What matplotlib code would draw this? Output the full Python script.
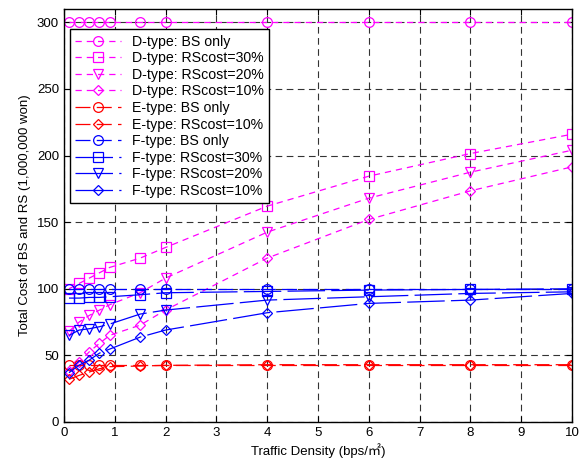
import matplotlib
matplotlib.use("Agg")
import matplotlib.pyplot as plt

plt.rcParams['font.family'] = ['Liberation Sans', 'DejaVu Sans']

x = [0.1, 0.3, 0.5, 0.7, 0.9, 1.5, 2, 4, 6, 8, 10]

d_bs = [300, 300, 300, 300, 300, 300, 300, 300, 300, 300, 300]
d_rs30 = [100, 104, 108, 112, 116, 123, 131, 162, 184.5, 201.5, 216]
d_rs20 = [68, 75, 80, 84, 88, 97, 108, 142.5, 168, 187.5, 204]
d_rs10 = [38, 45, 52.7, 59, 65, 72.7, 84, 123, 152, 173.5, 191.5]

e_bs = [43, 43, 43, 43, 43, 43, 43, 43, 43, 43, 43]
e_rs10 = [32, 35, 37.5, 40, 41.5, 42, 42.5, 43, 43, 43, 43]

f_bs = [100, 100, 100, 100, 100, 100, 100, 100, 100, 100, 100]
f_rs30 = [93, 93, 93.5, 93.5, 94, 95.5, 97, 98, 99, 99.5, 100]
f_rs20 = [65, 69, 70, 71.5, 73.5, 81, 84, 91.5, 94, 96.5, 97.7]
f_rs10 = [37, 42.7, 46.5, 51.7, 54.7, 63.7, 69, 82, 89, 91.5, 96.5]

labels = ["D-type: BS only", "D-type: RScost=30%", "D-type: RScost=20%", "D-type: RScost=10%",
          "E-type: BS only", "E-type: RScost=10%",
          "F-type: BS only", "F-type: RScost=30%", "F-type: RScost=20%", "F-type: RScost=10%"]

fig = plt.figure(figsize=(5.81, 4.67), dpi=100)
ax = fig.add_axes([0.110, 0.0964, 0.8745, 0.8843])

mag = (1, 0, 1)
red = (1, 0, 0)
blue = (0, 0, 1)
ms = 7
lw = 0.9
dash_d = (0, (5, 4))
dash_e = (0, (12, 5))
dash_f = (0, (30, 5))

series = [
    (d_bs, mag, 'o', dash_d),
    (d_rs30, mag, 's', dash_d),
    (d_rs20, mag, 'v', dash_d),
    (d_rs10, mag, 'D', dash_d),
    (e_bs, red, 'o', dash_e),
    (e_rs10, red, 'D', dash_e),
    (f_bs, blue, 'o', dash_e),
    (f_rs30, blue, 's', dash_f),
    (f_rs20, blue, 'v', dash_f),
    (f_rs10, blue, 'D', dash_f),
]
for (vals, c, m, ls), lab in zip(series, labels):
    msz = ms - 1.5 if m == 'D' else ms
    ax.plot(x, vals, color=c, marker=m, markersize=msz, markerfacecolor='none',
            markeredgecolor=c, markeredgewidth=0.9, linestyle=ls, linewidth=lw, label=lab)

ax.set_xlim(0, 10)
ax.set_ylim(0, 310)
ax.set_xticks(range(0, 11))
ax.set_yticks(range(0, 301, 50))
ax.grid(True, color='0.2', linestyle=(0, (6, 4)), linewidth=0.8)
ax.set_axisbelow(True)
ax.tick_params(direction='in', top=True, right=True, labelsize=9.5, length=4)
for s in ax.spines.values():
    s.set_linewidth(1.0)

ax.set_xlabel("Traffic Density (bps/\u33a1)", fontsize=9.5,
              family=['Liberation Sans', 'Noto Sans CJK KR'], labelpad=3)
ax.set_ylabel("Total Cost of BS and RS (1,000,000 won)", fontsize=9.5, labelpad=4)

leg = ax.legend(loc='upper left', bbox_to_anchor=(0.0, 0.965), fontsize=10.2,
                handlelength=3.2, handletextpad=0.8, labelspacing=0.18,
                borderpad=0.4, fancybox=False, framealpha=1, edgecolor='black',
                borderaxespad=0.4)
leg.get_frame().set_linewidth(1.0)

fig.savefig("out.png", dpi=100)
